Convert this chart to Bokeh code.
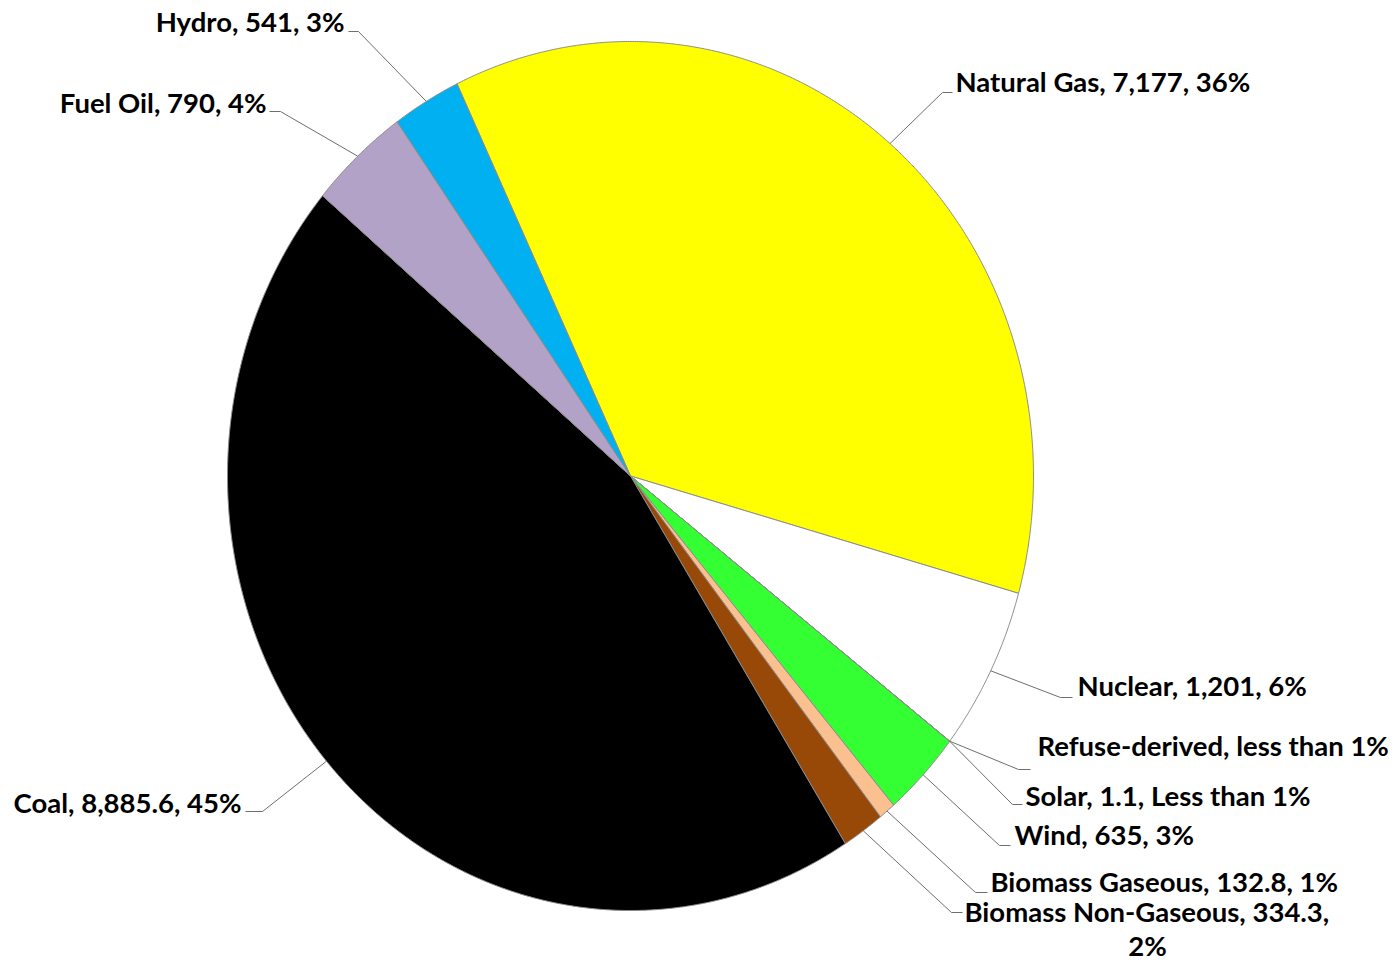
import numpy as np
from bokeh.plotting import figure
from bokeh.models import ColumnDataSource, Range1d
from bokeh.core.properties import value
from bokeh.embed import file_html
from bokeh.resources import INLINE

# ---- data ----
categories = ["Natural Gas", "Nuclear", "Refuse-derived", "Solar", "Wind",
              "Biomass Gaseous", "Biomass Non-Gaseous", "Coal", "Fuel Oil", "Hydro"]
values = [7177, 1201, 0.5, 1.1, 635, 132.8, 334.3, 8885.6, 790, 541]
label_texts = ["Natural Gas, 7,177, 36%", "Nuclear, 1,201, 6%",
               "Refuse-derived, less than 1%", "Solar, 1.1, Less than 1%",
               "Wind, 635, 3%", "Biomass Gaseous, 132.8, 1%",
               "Biomass Non-Gaseous, 334.3,", "Coal, 8,885.6, 45%",
               "Fuel Oil, 790, 4%", "Hydro, 541, 3%"]
colors = ["#FFFF00", "#FFFFFF", "#F2F2F2", "#FFC000", "#33FF33",
          "#FAC090", "#984807", "#000000", "#B3A2C7", "#00B0F0"]

# ---- layout (pixel geometry of the page) ----
W, H = 1398, 963
CX, CY, RX, RY = 630.0, 475.5, 403.0, 434.5
START_DEG = -25.5  # clockwise from top


def X(px):
    return (px - CX) / RX


def Y(py):
    return (CY - py) / RY


# label anchor (pixel) : x, middle y, align ; leader elbow & end (pixel)
label_pos = [
    (955, 81, "left", (942, 92), (952, 92)),
    (1077, 685, "left", (1060, 697), (1072, 697)),
    (1037, 745, "left", (1018, 769), (1030, 769)),
    (1025, 795, "left", (1012, 804), (1022, 804)),
    (1014, 834, "left", (999, 845), (1010, 845)),
    (990, 881, "left", (975, 892), (987, 892)),
    (964, 911, "left", (951, 912), (962, 912)),
    (241, 802, "right", (262, 811), (245, 811)),
    (266, 102, "right", (280, 111), (269, 111)),
    (344, 21, "right", (358, 31), (348, 31)),
]
# leader origin overrides (tiny slices share the white/green boundary)
attach_override = {2: "end_prev", 3: "end_prev"}

vals = np.array(values, dtype=float)
frac = vals / vals.sum()
ends = START_DEG + np.cumsum(frac) * 360.0
starts = ends - frac * 360.0

xs, ys = [], []
for a0, a1 in zip(starts, ends):
    n = max(4, int(abs(a1 - a0) * 4))
    t = np.radians(np.linspace(a0, a1, n))
    xs.append([0.0] + list(np.sin(t)) + [0.0])
    ys.append([0.0] + list(np.cos(t)) + [0.0])

p = figure(width=W, height=H, output_backend="svg", toolbar_location=None,
           x_range=Range1d(X(0), X(W)), y_range=Range1d(Y(H), Y(0)),
           min_border=0)
p.axis.visible = False
p.grid.visible = False
p.outline_line_color = None
p.background_fill_color = "white"
p.border_fill_color = "white"

src = ColumnDataSource(dict(xs=xs, ys=ys, color=colors, cat=categories))
p.patches("xs", "ys", fill_color="color", line_color="#8C8C8C", line_width=1,
          source=src)

# leader lines
lx, ly = [], []
for i, (tx, ty, al, elbow, end) in enumerate(label_pos):
    if attach_override.get(i) == "end_prev":
        ang = np.radians(starts[i])
    else:
        ang = np.radians((starts[i] + ends[i]) / 2.0)
    x0, y0 = np.sin(ang), np.cos(ang)
    lx.append([x0, X(elbow[0]), X(end[0])])
    ly.append([y0, Y(elbow[1]), Y(end[1])])
p.multi_line(lx, ly, line_color="#6E6E6E", line_width=1)

# labels
tx_ = [X(lp[0]) for lp in label_pos] + [X(1147)]
ty_ = [Y(lp[1]) for lp in label_pos] + [Y(945)]
al_ = [lp[2] for lp in label_pos] + ["center"]
txt = label_texts + ["2%"]
lsrc = ColumnDataSource(dict(x=tx_, y=ty_, text=txt, align=al_))
p.text("x", "y", text="text", text_align="align", text_baseline="middle",
       text_font=value("Lato"), text_font_size="27.5px", text_font_style="bold",
       text_color="#000000", source=lsrc)

open("out.html", "w").write(file_html(p, INLINE))
